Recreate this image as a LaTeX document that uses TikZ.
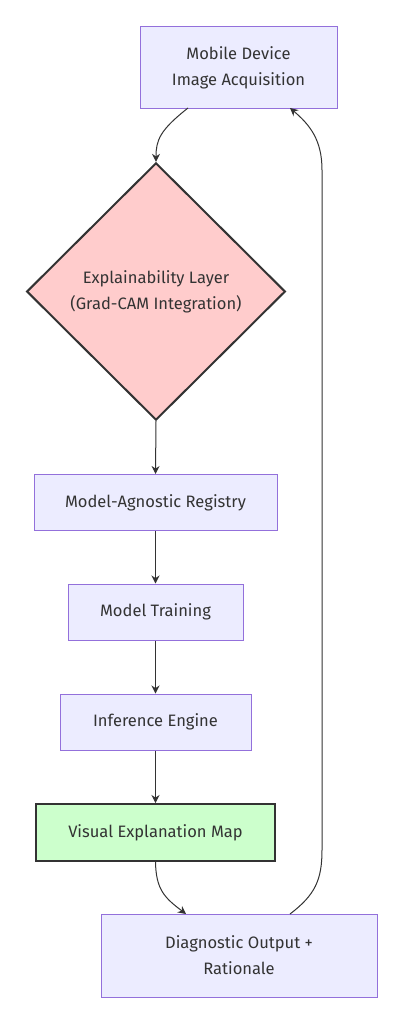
\documentclass[tikz,border=0pt]{standalone}
\usepackage{fontspec}
\setmainfont{Fira Sans}
\usetikzlibrary{shapes.geometric,arrows.meta}
\definecolor{boxfill}{HTML}{ECECFF}
\definecolor{boxline}{HTML}{9370DB}
\definecolor{dark}{HTML}{333333}
\definecolor{pinkfill}{HTML}{FFCCCC}
\definecolor{greenfill}{HTML}{CCFFCC}
\tikzset{
  nodefont/.style={font=\fontsize{12.4}{19.5}\selectfont, text=dark},
  procbox/.style={draw=boxline, fill=boxfill, line width=0.75pt, minimum height=#1, inner sep=0pt, align=center, nodefont},
  procbox/.default={42pt},
  hlbox/.style={draw=dark, fill=greenfill, line width=1.5pt, minimum height=42.75pt, inner sep=0pt, align=center, nodefont},
  decision/.style={diamond, draw=dark, fill=pinkfill, line width=1.5pt, inner sep=0pt, aspect=1, align=center, nodefont},
  conn/.style={draw=dark, line width=0.75pt, -{Stealth[length=6pt,width=6pt]}}
}
\begin{document}
\begin{tikzpicture}[x=0.75pt,y=-0.75pt]
\useasboundingbox (0,0) rectangle (403,1024);
\node[procbox=60.75pt, minimum width=147.75pt] (mob) at (238.5,67.5) {Mobile Device\\Image Acquisition};
\node[decision, minimum width=194pt, minimum height=193pt] (xai) at (156,291.5) {Explainability Layer\\(Grad-CAM Integration)};
\node[procbox, minimum width=182.25pt] (reg) at (155.5,502.5) {Model-Agnostic Registry};
\node[procbox, minimum width=131.25pt] (train) at (155.5,612) {Model Training};
\node[procbox, minimum width=143.25pt] (inf) at (155.5,722) {Inference Engine};
\node[hlbox, minimum width=179.25pt] (vis) at (155.5,832.5) {Visual Explanation Map};
\node[procbox=62.25pt, minimum width=207pt] (diag) at (239,955.5) {Diagnostic Output +\\Rationale};
\coordinate (mobout) at (188,108);
\coordinate (mobin) at (290,108);
\coordinate (diagin) at (186,914);
\coordinate (diagout) at (290,914);
\draw[conn] (mobout) .. controls (160,130) and (156,140) .. (xai.north);
\draw[conn] (xai.south) -- (reg.north);
\draw[conn] (reg.south) -- (train.north);
\draw[conn] (train.south) -- (inf.north);
\draw[conn] (inf.south) -- (vis.north);
\draw[conn] (vis.south) .. controls (156,890) and (165,898) .. (diagin);
\draw[conn] (diagout) .. controls (315,895) and (322,880) .. (322,850) -- (322,170) .. controls (322,140) and (310,125) .. (mobin);
\end{tikzpicture}
\end{document}
